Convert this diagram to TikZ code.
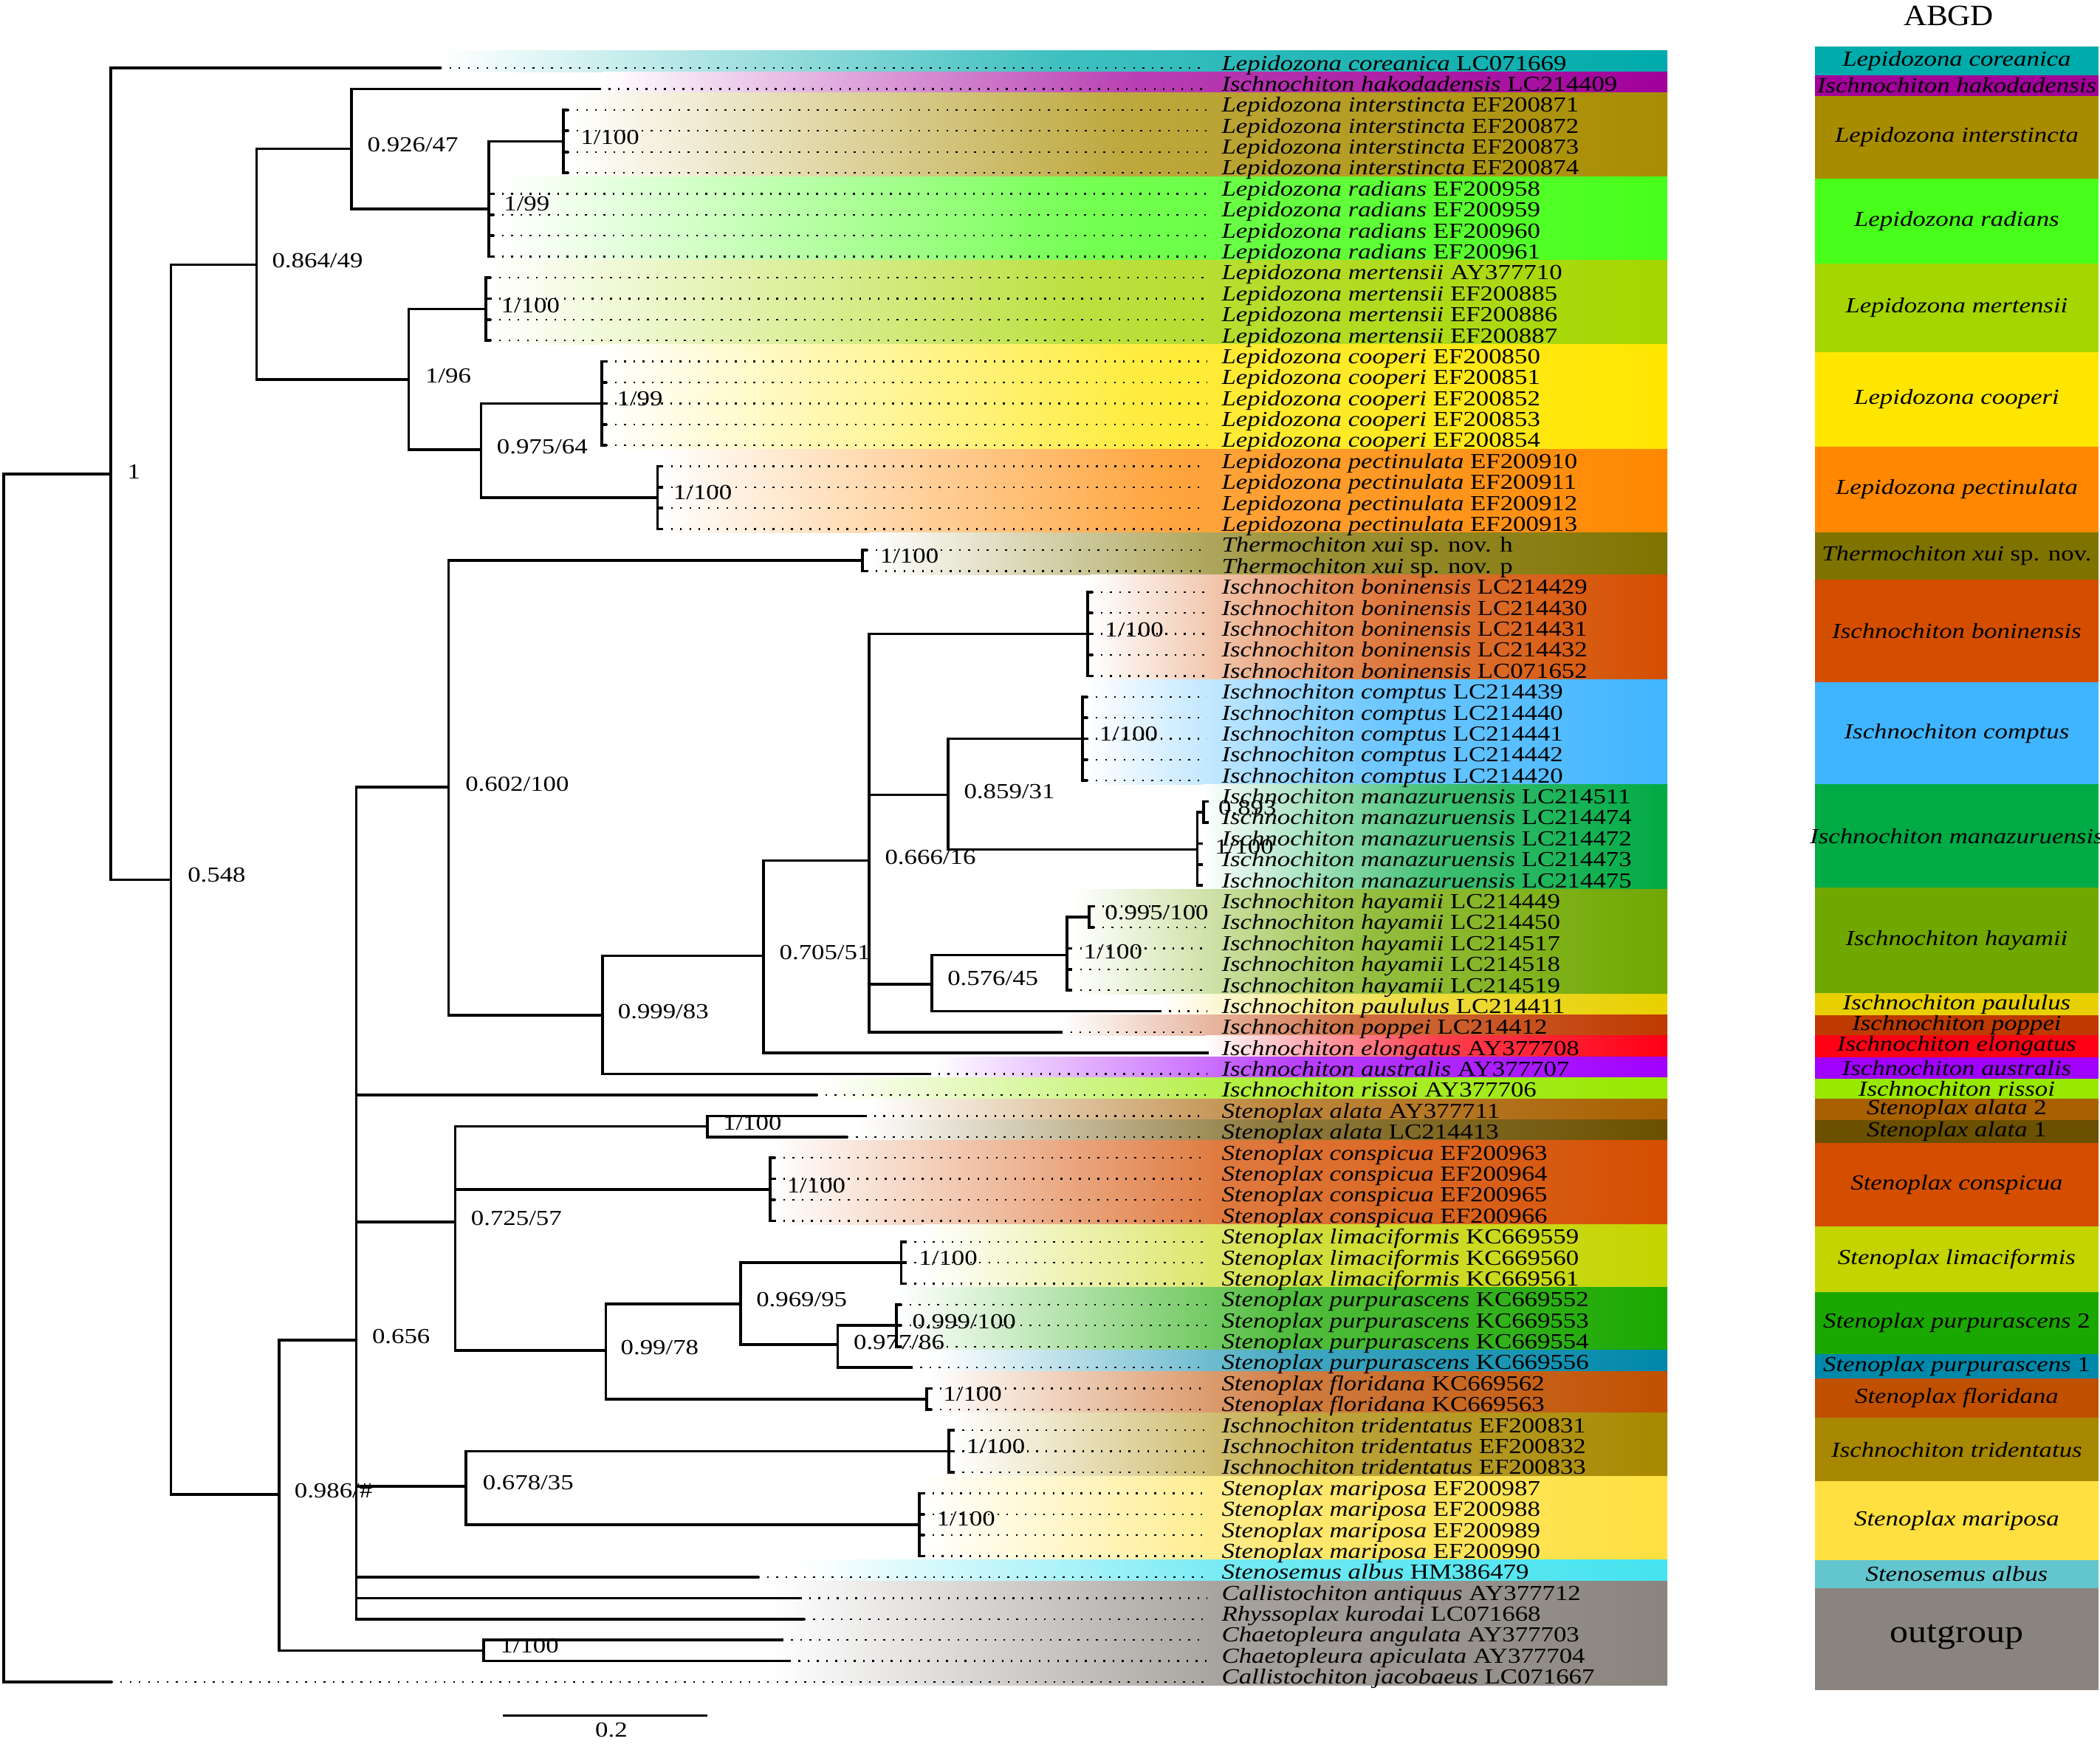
\documentclass[tikz,border=0pt]{standalone}
\usepackage{fontspec}
\setmainfont{Liberation Serif}
\definecolor{cCor}{HTML}{00ABAB}
\definecolor{cHak}{HTML}{A1009A}
\definecolor{cInt}{HTML}{A88C00}
\definecolor{cRad}{HTML}{47FF1A}
\definecolor{cMer}{HTML}{A5D600}
\definecolor{cCoo}{HTML}{FFE600}
\definecolor{cPec}{HTML}{FF8800}
\definecolor{cThe}{HTML}{7F7300}
\definecolor{cBon}{HTML}{D44E00}
\definecolor{cCom}{HTML}{40B5FF}
\definecolor{cMan}{HTML}{00AA44}
\definecolor{cHay}{HTML}{70A800}
\definecolor{cPau}{HTML}{E8D000}
\definecolor{cPop}{HTML}{BF3A00}
\definecolor{cElo}{HTML}{FF0015}
\definecolor{cAus}{HTML}{A000FF}
\definecolor{cRis}{HTML}{98E800}
\definecolor{cAlaB}{HTML}{A86000}
\definecolor{cAlaA}{HTML}{6B5000}
\definecolor{cCon}{HTML}{D44E00}
\definecolor{cLim}{HTML}{C4D400}
\definecolor{cPuB}{HTML}{1AA800}
\definecolor{cPuA}{HTML}{0088AA}
\definecolor{cFlo}{HTML}{C05000}
\definecolor{cTri}{HTML}{A88800}
\definecolor{cMar}{HTML}{FFE040}
\definecolor{cAlb}{HTML}{63C6CF}
\definecolor{cAlbT}{HTML}{45E3EF}
\definecolor{cOut}{HTML}{8A847E}
\newcommand\sx[1]{\scalebox{1.2}[1]{#1}}
\begin{document}
\begin{tikzpicture}[x=1pt,y=-1pt,
  br/.style={line width=2pt,line cap=rect},
  dotl/.style={line width=1.3pt,dash pattern=on 1.3pt off 5.6pt},
  tax/.style={anchor=base west,inner sep=0pt,font=\fontsize{16}{16}\selectfont},
  supp/.style={anchor=west,inner sep=0pt,font=\fontsize{16}{16}\selectfont},
  abgd/.style={anchor=center,inner sep=0pt,font=\fontsize{16}{16}\selectfont}]
\fill[white] (0,0) rectangle (1568,1302);
\useasboundingbox (0,0) rectangle (1568,1302);

% colour bands behind the tips
\foreach \a/\b/\xs/\c in {1/1/330/cCor,2/2/450/cHak,3/6/425/cInt,7/10/376/cRad,11/14/365/cMer,
  15/19/450/cCoo,20/23/492/cPec,24/25/650/cThe,26/30/814/cBon,31/35/810/cCom,36/40/898/cMan,
  41/45/802/cHay,46/46/866/cPau,47/47/792/cPop,48/48/900/cElo,49/49/696/cAus,50/50/612/cRis,
  51/51/649/cAlaB,52/52/640/cAlaA,53/56/576/cCon,57/59/689/cLim,60/62/669/cPuB,63/63/696/cPuA,
  64/65/694/cFlo,66/68/711/cTri,69/72/689/cMar,73/73/600/cAlbT,74/78/576/cOut}
  {\shade[left color=white,right color=\c,middle color=\c!75!white]
     (\xs,{37.95+15.65*(\a-1)}) rectangle (1245,{37.95+15.65*\b});}

% internal nodes
\coordinate (R) at (2.8,800);
\coordinate (N1) at (82.6,354);
\coordinate (N548) at (127.6,656.9);
\coordinate (N864) at (191.6,197.7);
\coordinate (N926) at (262.6,111.0);
\coordinate (Nir) at (364.9,156);
\coordinate (Nint) at (420.7,105.6);
\coordinate (N196) at (305.1,283.4);
\coordinate (Nmer) at (362.8,230.8);
\coordinate (N975) at (359.2,335.6);
\coordinate (Ncoo) at (449.2,301.2);
\coordinate (Npec) at (491,371.6);
\coordinate (N986) at (208.4,1115.9);
\coordinate (N656) at (266.1,1000.5);
\coordinate (Ncha) at (361,1232.4);
\coordinate (N602) at (335,587.7);
\coordinate (Nthe) at (644,418.6);
\coordinate (N999) at (449.9,757.9);
\coordinate (N705) at (570.2,713.7);
\coordinate (N666) at (649,642.5);
\coordinate (Nbon) at (812,473.35);
\coordinate (N859) at (707.8,593.6);
\coordinate (Ncom) at (808.3,551.6);
\coordinate (Nman) at (894,634.4);
\coordinate (Nman2) at (898.6,606.4);
\coordinate (N576) at (695.8,734.8);
\coordinate (Nhay) at (796.5,713.2);
\coordinate (Nhay2) at (813.2,684.6);
\coordinate (N725) at (339.9,912.3);
\coordinate (Nala) at (528,841.1);
\coordinate (Ncon) at (574.9,888.1);
\coordinate (N99) at (452.4,1008.5);
\coordinate (N969) at (553,973.5);
\coordinate (Nlim) at (672.9,942.85);
\coordinate (N977) at (625.4,1004);
\coordinate (Npur) at (669.2,989.8);
\coordinate (Nflo) at (692,1044.6);
\coordinate (N678) at (348,1109.8);
\coordinate (Ntri) at (708.6,1083.7);
\coordinate (Nmar) at (686.4,1138.5);
\coordinate (dotend) at (901,0);

% tips (end of the solid branch)
\foreach \i/\x in {1/328.6,2/447.5,3/423.7,4/423.7,5/423.7,6/423.7,7/367.9,8/367.9,9/367.9,10/367.9,
  11/365.8,12/365.8,13/365.8,14/365.8,15/452.2,16/452.2,17/452.2,18/452.2,19/452.2,
  20/494,21/494,22/494,23/494,24/647,25/647,26/815,27/815,28/815,29/815,30/815,
  31/811.3,32/811.3,33/811.3,34/811.3,35/811.3,36/901.6,37/901.6,38/897,39/897,40/897,
  41/816.2,42/816.2,43/799.5,44/799.5,45/799.5,46/866.1,47/792.3,48/901.8,49/693.8,50/609.3,
  51/645.8,52/632.2,53/577.9,54/577.9,55/577.9,56/577.9,57/675.9,58/675.9,59/675.9,
  60/672.2,61/672.2,62/672.2,63/680.3,64/695,65/695,66/711.6,67/711.6,68/711.6,
  69/689.4,70/689.4,71/689.4,72/689.4,73/565.8,74/597.3,75/600.2,76/583.7,77/589.2,78/83}
  {\coordinate (t\i) at (\x,{50.8+15.65*(\i-1)});}

% dotted tip extensions
\foreach \i in {1,...,35,41,42,43,44,45,46,47,49,50,51,52,53,54,55,56,57,58,59,60,61,62,63,64,65,66,67,68,69,70,71,72,73,74,75,76,77,78}
  {\draw[dotl] (t\i) -- (t\i -| dotend);}

% branches
\draw[br] (N1) -| (R) |- (t78);
\draw[br] (t1) -| (N1) |- (N548);
\draw[br] (N864) -| (N548) |- (N986);
\draw[br] (N926) -| (N864) |- (N196);
\draw[br] (t2) -| (N926) |- (Nir);
\draw[br] (Nint) -| (Nir) |- (t10);
\foreach \i in {7,8,9} {\draw[br] (Nir |- t\i) -- (t\i);}
\draw[br] (t3) -| (Nint) |- (t6);
\foreach \i in {4,5} {\draw[br] (Nint |- t\i) -- (t\i);}
\draw[br] (Nmer) -| (N196) |- (N975);
\draw[br] (t11) -| (Nmer) |- (t14);
\foreach \i in {12,13} {\draw[br] (Nmer |- t\i) -- (t\i);}
\draw[br] (Ncoo) -| (N975) |- (Npec);
\draw[br] (t15) -| (Ncoo) |- (t19);
\foreach \i in {16,17,18} {\draw[br] (Ncoo |- t\i) -- (t\i);}
\draw[br] (t20) -| (Npec) |- (t23);
\foreach \i in {21,22} {\draw[br] (Npec |- t\i) -- (t\i);}
\draw[br] (N656) -| (N986) |- (Ncha);
\draw[br] (t76) -| (Ncha) |- (t77);
\draw[br] (N602) -| (N656) |- (t75);
\draw[br] (N656 |- t50) -- (t50);
\draw[br] (N656 |- N725) -- (N725);
\draw[br] (N656 |- N678) -- (N678);
\draw[br] (N656 |- t73) -- (t73);
\draw[br] (N656 |- t74) -- (t74);
\draw[br] (Nthe) -| (N602) |- (N999);
\draw[br] (t24) -| (Nthe) |- (t25);
\draw[br] (N705) -| (N999) |- (t49);
\draw[br] (N666) -| (N705) |- (t48);
\draw[br] (Nbon) -| (N666) |- (t47);
\draw[br] (N666 |- N859) -- (N859);
\draw[br] (N666 |- N576) -- (N576);
\draw[br] (t26) -| (Nbon) |- (t30);
\foreach \i in {27,28,29} {\draw[br] (Nbon |- t\i) -- (t\i);}
\draw[br] (Ncom) -| (N859) |- (Nman);
\draw[br] (t31) -| (Ncom) |- (t35);
\foreach \i in {32,33,34} {\draw[br] (Ncom |- t\i) -- (t\i);}
\draw[br] (Nman2) -| (Nman) |- (t40);
\foreach \i in {38,39} {\draw[br] (Nman |- t\i) -- (t\i);}
\draw[br] (t36) -| (Nman2) |- (t37);
\draw[br] (Nhay) -| (N576) |- (t46);
\draw[br] (Nhay2) -| (Nhay) |- (t45);
\foreach \i in {43,44} {\draw[br] (Nhay |- t\i) -- (t\i);}
\draw[br] (t41) -| (Nhay2) |- (t42);
\draw[br] (Nala) -| (N725) |- (N99);
\draw[br] (N725 |- Ncon) -- (Ncon);
\draw[br] (t51) -| (Nala) |- (t52);
\draw[br] (t53) -| (Ncon) |- (t56);
\foreach \i in {54,55} {\draw[br] (Ncon |- t\i) -- (t\i);}
\draw[br] (N969) -| (N99) |- (Nflo);
\draw[br] (Nlim) -| (N969) |- (N977);
\draw[br] (t57) -| (Nlim) |- (t59);
\draw[br] (Nlim |- t58) -- (t58);
\draw[br] (Npur) -| (N977) |- (t63);
\draw[br] (t60) -| (Npur) |- (t62);
\draw[br] (Npur |- t61) -- (t61);
\draw[br] (t64) -| (Nflo) |- (t65);
\draw[br] (Ntri) -| (N678) |- (Nmar);
\draw[br] (t66) -| (Ntri) |- (t68);
\draw[br] (Ntri |- t67) -- (t67);
\draw[br] (t69) -| (Nmar) |- (t72);
\foreach \i in {70,71} {\draw[br] (Nmar |- t\i) -- (t\i);}

% support values
\foreach \x/\y/\s [count=\k] in {95/352/1,140/653.6/0.548,203/194.4/0.864\slash 49,274.2/108/0.926\slash 47,
  433.4/102.5/1\slash 100,376/152.3/1\slash 99,374/228/1\slash 100,317.4/280.7/1\slash 96,
  460.5/298/1\slash 99,370.8/333.5/0.975\slash 64,502.6/367.8/1\slash 100,656.9/415.3/1\slash 100,
  347.3/585.4/0.602\slash 100,461.2/755.6/0.999\slash 83,581.8/711.3/0.705\slash 51,
  660.6/639.9/0.666\slash 16,824.8/470/1\slash 100,719.6/590.9/0.859\slash 31,820.6/548.2/1\slash 100,
  909.6/603/0.893,907/632.3/1\slash 100,707.3/730.6/0.576\slash 45,809/710.6/1\slash 100,
  824.8/681.4/0.995\slash 100,351.5/909.6/0.725\slash 57,539.6/838.7/1\slash 100,
  587.4/885.2/1\slash 100,463.3/1006/0.99\slash 78,564.5/970.2/0.969\slash 95,
  685.9/939.7/1\slash 100,637.2/1002.6/0.977\slash 86,681/986.7/0.999\slash 100,
  704.1/1040.7/1\slash 100,277.7/998/0.656,219.7/1113.4/0.986\slash \#,360.3/1107.3/0.678\slash 35,
  721.4/1079.8/1\slash 100,699.2/1134/1\slash 100,373.3/1229/1\slash 100}
  {\node[supp] (s\k) at (\x,\y) {\sx{\s}};}

% taxon labels
\foreach \i/\n/\a in {1/Lepidozona coreanica/LC071669,2/Ischnochiton hakodadensis/LC214409,
  3/Lepidozona interstincta/EF200871,4/Lepidozona interstincta/EF200872,
  5/Lepidozona interstincta/EF200873,6/Lepidozona interstincta/EF200874,
  7/Lepidozona radians/EF200958,8/Lepidozona radians/EF200959,9/Lepidozona radians/EF200960,
  10/Lepidozona radians/EF200961,11/Lepidozona mertensii/AY377710,12/Lepidozona mertensii/EF200885,
  13/Lepidozona mertensii/EF200886,14/Lepidozona mertensii/EF200887,15/Lepidozona cooperi/EF200850,
  16/Lepidozona cooperi/EF200851,17/Lepidozona cooperi/EF200852,18/Lepidozona cooperi/EF200853,
  19/Lepidozona cooperi/EF200854,20/Lepidozona pectinulata/EF200910,21/Lepidozona pectinulata/EF200911,
  22/Lepidozona pectinulata/EF200912,23/Lepidozona pectinulata/EF200913,
  24/Thermochiton xui/sp. nov. h,25/Thermochiton xui/sp. nov. p,
  26/Ischnochiton boninensis/LC214429,27/Ischnochiton boninensis/LC214430,
  28/Ischnochiton boninensis/LC214431,29/Ischnochiton boninensis/LC214432,
  30/Ischnochiton boninensis/LC071652,31/Ischnochiton comptus/LC214439,
  32/Ischnochiton comptus/LC214440,33/Ischnochiton comptus/LC214441,
  34/Ischnochiton comptus/LC214442,35/Ischnochiton comptus/LC214420,
  36/Ischnochiton manazuruensis/LC214511,37/Ischnochiton manazuruensis/LC214474,
  38/Ischnochiton manazuruensis/LC214472,39/Ischnochiton manazuruensis/LC214473,
  40/Ischnochiton manazuruensis/LC214475,41/Ischnochiton hayamii/LC214449,
  42/Ischnochiton hayamii/LC214450,43/Ischnochiton hayamii/LC214517,
  44/Ischnochiton hayamii/LC214518,45/Ischnochiton hayamii/LC214519,
  46/Ischnochiton paululus/LC214411,47/Ischnochiton poppei/LC214412,
  48/Ischnochiton elongatus/AY377708,49/Ischnochiton australis/AY377707,
  50/Ischnochiton rissoi/AY377706,51/Stenoplax alata/AY377711,52/Stenoplax alata/LC214413,
  53/Stenoplax conspicua/EF200963,54/Stenoplax conspicua/EF200964,
  55/Stenoplax conspicua/EF200965,56/Stenoplax conspicua/EF200966,
  57/Stenoplax limaciformis/KC669559,58/Stenoplax limaciformis/KC669560,
  59/Stenoplax limaciformis/KC669561,60/Stenoplax purpurascens/KC669552,
  61/Stenoplax purpurascens/KC669553,62/Stenoplax purpurascens/KC669554,
  63/Stenoplax purpurascens/KC669556,64/Stenoplax floridana/KC669562,
  65/Stenoplax floridana/KC669563,66/Ischnochiton tridentatus/EF200831,
  67/Ischnochiton tridentatus/EF200832,68/Ischnochiton tridentatus/EF200833,
  69/Stenoplax mariposa/EF200987,70/Stenoplax mariposa/EF200988,
  71/Stenoplax mariposa/EF200989,72/Stenoplax mariposa/EF200990,
  73/Stenosemus albus/HM386479,74/Callistochiton antiquus/AY377712,
  75/Rhyssoplax kurodai/LC071668,76/Chaetopleura angulata/AY377703,
  77/Chaetopleura apiculata/AY377704,78/Callistochiton jacobaeus/LC071667}
  {\node[tax] (L\i) at (912,{52.4+15.65*(\i-1)}) {\sx{\textit{\n} \a}};}

% ABGD column
\node[font=\fontsize{22}{22}\selectfont,inner sep=0pt] (title) at (1455,12) {\scalebox{1.08}[1]{ABGD}};
\foreach \t/\b/\c/\n [count=\k] in {34.6/56.1/cCor/{\textit{Lepidozona coreanica}},
  56.1/71.7/cHak/{\textit{Ischnochiton hakodadensis}},
  71.7/133.3/cInt/{\textit{Lepidozona interstincta}},
  133.3/196.7/cRad/{\textit{Lepidozona radians}},
  196.7/262.9/cMer/{\textit{Lepidozona mertensii}},
  262.9/333.4/cCoo/{\textit{Lepidozona cooperi}},
  333.4/397.5/cPec/{\textit{Lepidozona pectinulata}},
  397.5/432.6/cThe/{\textit{Thermochiton xui} sp. nov.},
  432.6/509.4/cBon/{\textit{Ischnochiton boninensis}},
  509.4/585.7/cCom/{\textit{Ischnochiton comptus}},
  585.7/662.8/cMan/{\textit{Ischnochiton manazuruensis}},
  662.8/741.7/cHay/{\textit{Ischnochiton hayamii}},
  741.7/758/cPau/{\textit{Ischnochiton paululus}},
  758/772.7/cPop/{\textit{Ischnochiton poppei}},
  772.7/789.5/cElo/{\textit{Ischnochiton elongatus}},
  789.5/805.4/cAus/{\textit{Ischnochiton australis}},
  805.4/820.1/cRis/{\textit{Ischnochiton rissoi}},
  820.1/836.4/cAlaB/{\textit{Stenoplax alata} 2},
  836.4/853.6/cAlaA/{\textit{Stenoplax alata} 1},
  853.6/915.7/cCon/{\textit{Stenoplax conspicua}},
  915.7/964.7/cLim/{\textit{Stenoplax limaciformis}},
  964.7/1010.9/cPuB/{\textit{Stenoplax purpurascens} 2},
  1010.9/1029.3/cPuA/{\textit{Stenoplax purpurascens} 1},
  1029.3/1058.7/cFlo/{\textit{Stenoplax floridana}},
  1058.7/1106/cTri/{\textit{Ischnochiton tridentatus}},
  1106/1164.9/cMar/{\textit{Stenoplax mariposa}},
  1164.9/1185.7/cAlb/{\textit{Stenosemus albus}}}
  {\fill[\c] (1355,\t) rectangle (1567,\b);
   \node[abgd] (g\k) at (1461,{(\t+\b)/2}) {\sx{\n}};}
\fill[cOut] (1355,1185.7) rectangle (1567,1262.1);
\node[abgd,font=\fontsize{24}{24}\selectfont] (gout) at (1461,1222) {\scalebox{1.15}[1]{outgroup}};

% scale bar
\coordinate (sb1) at (375.4,1281);
\coordinate (sb2) at (528,1281);
\draw[line width=2pt] (sb1) -- (sb2);
\node[abgd] (sblab) at (456.5,1291.6) {\sx{0.2}};
\end{tikzpicture}
\end{document}
